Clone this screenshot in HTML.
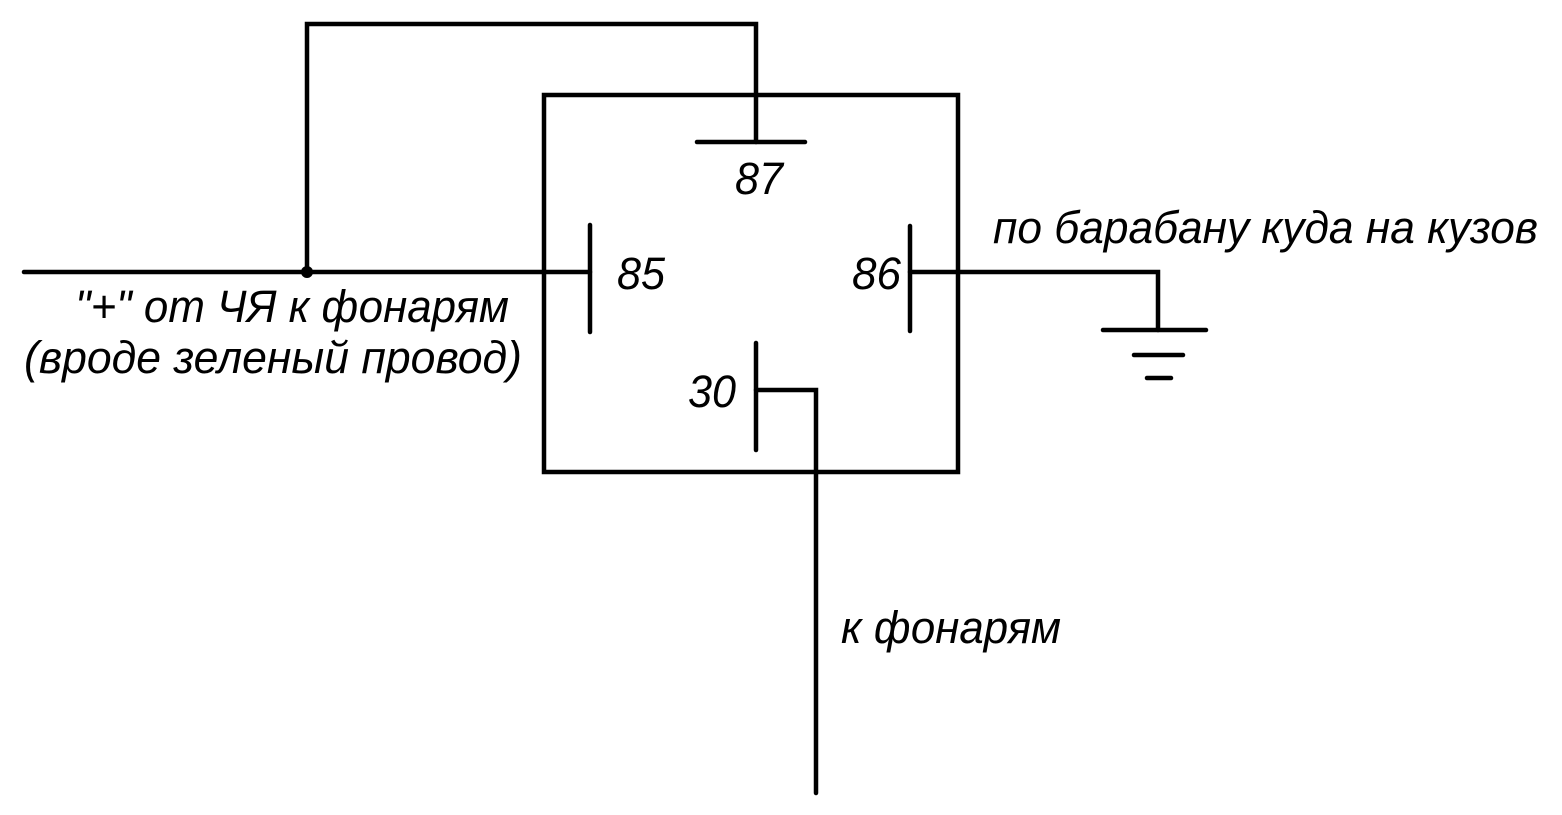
<!DOCTYPE html>
<html><head><meta charset="utf-8"><style>
html,body{margin:0;padding:0;background:#fff;}
svg{display:block;}
text{font-family:"Liberation Sans",Arial,sans-serif;font-style:italic;font-size:45px;fill:#000;}
</style></head><body>
<svg width="1562" height="815" viewBox="0 0 1562 815" xmlns="http://www.w3.org/2000/svg">
<g stroke="#000" stroke-width="4.5" fill="none" stroke-linecap="round" stroke-linejoin="miter">
<rect x="544" y="95" width="414" height="377"/>
<polyline points="307,272 307,24 756,24 756,142"/>
<line x1="697" y1="142" x2="805" y2="142"/>
<line x1="24" y1="272" x2="590" y2="272"/>
<line x1="590" y1="225" x2="590" y2="332"/>
<line x1="910" y1="226" x2="910" y2="331"/>
<polyline points="910,272 1158,272 1158,330"/>
<line x1="1103" y1="330" x2="1206" y2="330"/>
<line x1="1134" y1="355" x2="1183" y2="355"/>
<line x1="1147" y1="378" x2="1171" y2="378"/>
<line x1="756" y1="343" x2="756" y2="450"/>
<polyline points="756,390 816,390 816,793"/>
</g>
<circle cx="307" cy="272" r="6" fill="#000"/>
<text x="735" y="194" textLength="48" lengthAdjust="spacingAndGlyphs">87</text>
<text x="617" y="289" textLength="48" lengthAdjust="spacingAndGlyphs">85</text>
<text x="852" y="289" textLength="49" lengthAdjust="spacingAndGlyphs">86</text>
<text x="688" y="407" textLength="48" lengthAdjust="spacingAndGlyphs">30</text>
<text x="993" y="243" textLength="545" lengthAdjust="spacingAndGlyphs">по барабану куда на кузов</text>
<text x="75" y="322" textLength="434" lengthAdjust="spacingAndGlyphs">"+" от ЧЯ к фонарям</text>
<text x="24" y="373" textLength="498" lengthAdjust="spacingAndGlyphs">(вроде зеленый провод)</text>
<text x="841" y="643" textLength="220" lengthAdjust="spacingAndGlyphs">к фонарям</text>
</svg>
</body></html>
